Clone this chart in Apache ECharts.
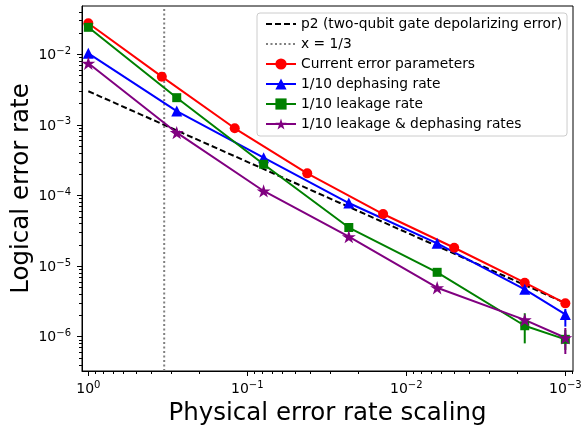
<!DOCTYPE html>
<html>
<head>
<meta charset="utf-8">
<script src="https://cdn.jsdelivr.net/npm/echarts@6/dist/echarts.min.js"></script>
<style>
  html, body { margin: 0; padding: 0; background: #fff; }
  #chart { width: 585px; height: 426px; }
</style>
</head>
<body>
<div id="chart"></div>
<script>
// ---- data ----
const seriesNames = [
  'p2 (two-qubit gate depolarizing error)',
  'x = 1/3',
  'Current error parameters',
  '1/10 dephasing rate',
  '1/10 leakage rate',
  '1/10 leakage & dephasing rates'
];

const p2X = [1, 0.001];
const p2Y = [0.003, 0.000003];

const vlineX = 1 / 3;

const currentX = [1, 0.345, 0.12, 0.042, 0.014, 0.005, 0.0018, 0.001];
const currentY = [0.0275, 0.00482, 0.000895, 0.000206, 0.0000547, 0.0000182, 0.00000582, 0.00000297];

const scaledX = [1, 0.278, 0.079, 0.023, 0.0064, 0.0018, 0.001];
const dephasingY = [0.01033, 0.00157, 0.000343, 0.0000783, 0.000021, 0.00000469, 0.00000207];
const leakageY = [0.0241, 0.00243, 0.000277, 0.0000352, 0.00000817, 0.00000143, 0.000000918];
const bothY = [0.00746, 0.000776, 0.000116, 0.0000261, 0.00000494, 0.00000173, 0.000000968];

// visible error bars (null = hidden under the marker)
const dephasingErrLow  = [null, null, null, null, null, null, 0.00000139];
const dephasingErrHigh = [null, null, null, null, null, null, 0.00000247];
const leakageErrLow    = [null, null, null, null, null, 0.000000805, 0.00000065];
const leakageErrHigh   = [null, null, null, null, null, 0.00000215, 0.00000125];
const bothErrLow       = [null, null, null, null, null, null, 0.000000569];
const bothErrHigh      = [null, null, null, null, null, null, 0.00000133];

const xMajorTicks = [1, 0.1, 0.01, 0.001];
const yMajorTicks = [1e-6, 1e-5, 1e-4, 1e-3, 1e-2];

const xLabel = 'Physical error rate scaling';
const yLabel = 'Logical error rate';

// ---- chart ----
const FONT = 'DejaVu Sans';
const X_MIN = 8.95e-4, X_MAX = 1.096;
const Y_MIN = 3.27e-7, Y_MAX = 0.0483;

function minorTicks(lo, hi) {
  const out = [];
  for (let e = -8; e <= 1; e++) {
    for (let m = 2; m <= 9; m++) {
      const v = m * Math.pow(10, e);
      if (v >= lo && v <= hi) out.push(v);
    }
  }
  return out;
}

function expLabel(v) {
  const e = Math.round(Math.log10(v));
  const s = e < 0 ? '\u2212' + (-e) : String(e);
  return '{b|10}{s|' + s + '}';
}
const labelRich = {
  b: { fontSize: 14, fontFamily: FONT, color: '#000', lineHeight: 16, verticalAlign: 'bottom' },
  s: { fontSize: 10, fontFamily: FONT, color: '#000', lineHeight: 10, verticalAlign: 'top' }
};

function starPath() {
  const pts = [];
  for (let i = 0; i < 10; i++) {
    const r = i % 2 === 0 ? 1 : 0.381966;
    const a = -Math.PI / 2 + i * Math.PI / 5;
    pts.push((r * Math.cos(a)).toFixed(4) + ' ' + (r * Math.sin(a)).toFixed(4));
  }
  return 'path://M' + pts.join(' L') + ' Z';
}

function zip(xs, ys) { return xs.map((x, i) => [x, ys[i]]); }

function errSeries(name, color, xs, lows, highs) {
  const data = [];
  xs.forEach((x, i) => { if (lows[i] != null) data.push([x, lows[i], highs[i]]); });
  return {
    type: 'custom', name: name, data: data, z: 3,
    encode: { x: 0, y: [1, 2] },
    renderItem: function (params, api) {
      const a = api.coord([api.value(0), api.value(1)]);
      const b = api.coord([api.value(0), api.value(2)]);
      return { type: 'line', shape: { x1: a[0], y1: a[1], x2: b[0], y2: b[1] },
               style: { stroke: color, lineWidth: 2 } };
    }
  };
}

function lineSeries(name, color, xs, ys, symbol, size, keepAspect) {
  return {
    type: 'line', name: name, data: zip(xs, ys),
    symbol: symbol, symbolSize: size, symbolKeepAspect: !!keepAspect, showSymbol: true,
    lineStyle: { color: color, width: 2 },
    itemStyle: { color: color, borderWidth: 0 },
    emphasis: { disabled: true }, z: 3
  };
}

const chart = echarts.init(document.getElementById('chart'), null, { renderer: 'canvas' });

const baseX = {
  type: 'log', inverse: true, min: X_MIN, max: X_MAX, gridIndex: 0, position: 'bottom',
  splitLine: { show: false }, minorTick: { show: false }, minorSplitLine: { show: false }
};
const baseY = {
  type: 'log', min: Y_MIN, max: Y_MAX, gridIndex: 0, position: 'left',
  splitLine: { show: false }, minorTick: { show: false }, minorSplitLine: { show: false }
};

const option = {
  animation: false,
  backgroundColor: '#fff',
  grid: {
    left: 82, right: 12, top: 6, bottom: 55, containLabel: false, outerBoundsMode: 'none',
    show: true, borderColor: '#000', borderWidth: 1, backgroundColor: 'transparent'
  },
  legend: {
    data: seriesNames,
    orient: 'vertical', left: 257, top: 13,
    itemWidth: 30, itemHeight: 14, itemGap: 6,
    padding: [4, 5, 5, 8],
    backgroundColor: 'rgba(255,255,255,0.8)', borderColor: '#cccccc', borderWidth: 1, borderRadius: 3,
    textStyle: { fontSize: 13.8, fontFamily: FONT, color: '#000' },
    selectedMode: false
  },
  xAxis: [
    Object.assign({}, baseX, {
      name: xLabel, nameLocation: 'middle', nameGap: 30,
      nameTextStyle: { fontSize: 24.5, fontFamily: FONT, color: '#000' },
      axisLine: { show: true, lineStyle: { color: '#000', width: 1 } },
      axisTick: { show: true, length: 5, lineStyle: { color: '#000', width: 1 }, customValues: xMajorTicks },
      axisLabel: { show: true, margin: 9, customValues: xMajorTicks, formatter: expLabel, rich: labelRich }
    }),
    Object.assign({}, baseX, {
      axisLine: { show: false },
      axisTick: { show: true, length: 3, lineStyle: { color: '#000', width: 1 }, customValues: minorTicks(X_MIN, X_MAX) },
      axisLabel: { show: false }
    })
  ],
  yAxis: [
    Object.assign({}, baseY, {
      name: yLabel, nameLocation: 'middle', nameGap: 48, nameRotate: 90, nameMoveOverlap: false,
      nameTextStyle: { fontSize: 24.5, fontFamily: FONT, color: '#000' },
      axisLine: { show: true, lineStyle: { color: '#000', width: 1 } },
      axisTick: { show: true, length: 5, lineStyle: { color: '#000', width: 1 }, customValues: yMajorTicks },
      axisLabel: { show: true, margin: 11, customValues: yMajorTicks, formatter: expLabel, rich: labelRich }
    }),
    Object.assign({}, baseY, {
      axisLine: { show: false },
      axisTick: { show: true, length: 3, lineStyle: { color: '#000', width: 1 }, customValues: minorTicks(Y_MIN, Y_MAX) },
      axisLabel: { show: false }
    })
  ],
  series: [
    {
      type: 'line', name: seriesNames[0], data: zip(p2X, p2Y), symbol: 'none',
      lineStyle: { color: '#000', width: 2, type: [6, 3] }, itemStyle: { color: 'rgba(0,0,0,0)', borderWidth: 0 }, z: 2
    },
    {
      type: 'line', name: seriesNames[1], data: [[vlineX, Y_MIN], [vlineX, Y_MAX]], symbol: 'none',
      lineStyle: { color: '#808080', width: 2, type: [2, 2.5] }, itemStyle: { color: 'rgba(0,0,0,0)', borderWidth: 0 }, z: 2
    },
    lineSeries(seriesNames[2], '#ff0000', currentX, currentY, 'circle', 10),
    lineSeries(seriesNames[3], '#0000ff', scaledX, dephasingY, 'triangle', 11),
    lineSeries(seriesNames[4], '#008000', scaledX, leakageY, 'rect', 9),
    lineSeries(seriesNames[5], '#800080', scaledX, bothY, starPath(), 14, true),
    errSeries('dephasing error', '#0000ff', scaledX, dephasingErrLow, dephasingErrHigh),
    errSeries('leakage error', '#008000', scaledX, leakageErrLow, leakageErrHigh),
    errSeries('both error', '#800080', scaledX, bothErrLow, bothErrHigh)
  ]
};
chart.setOption(option);
</script>
</body>
</html>
